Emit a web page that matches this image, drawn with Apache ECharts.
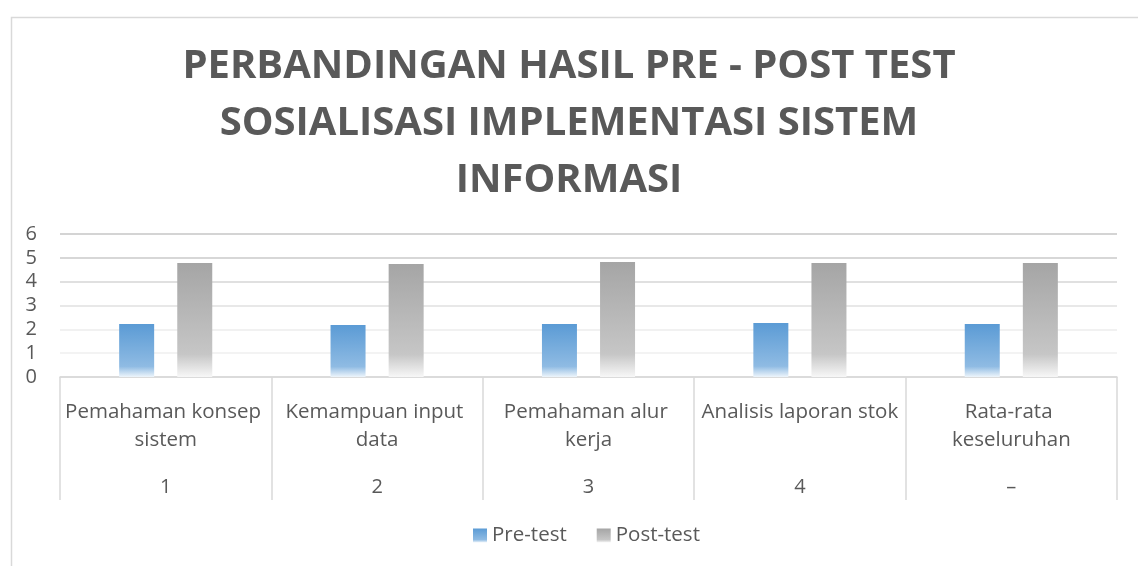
<!DOCTYPE html>
<html>
<head>
<meta charset="utf-8">
<script src="https://cdn.jsdelivr.net/npm/echarts@6/dist/echarts.min.js"></script>
<style>
  html, body { margin: 0; padding: 0; background: #fff; }
  #chart { width: 1138px; height: 566px; }
</style>
</head>
<body>
<div id="chart"></div>
<script>
var categories = ['Pemahaman konsep sistem', 'Kemampuan input data', 'Pemahaman alur kerja', 'Analisis laporan stok', 'Rata-rata keseluruhan'];
var codes = ['1', '2', '3', '4', '–'];
var preTest = [2.22, 2.18, 2.22, 2.27, 2.22];
var postTest = [4.78, 4.74, 4.83, 4.78, 4.78];
var yTicks = [0, 1, 2, 3, 4, 5, 6];

var textColor = '#595959';
var fontFamily = '"Open Sans", sans-serif';

function fade(top, mid, bottom) {
    return {
        type: 'linear', x: 0, y: 0, x2: 0, y2: 1,
        colorStops: [
            { offset: 0, color: top },
            { offset: 0.8, color: mid },
            { offset: 1, color: bottom }
        ]
    };
}

var option = {
    animation: false,
    textStyle: { fontFamily: fontFamily },
    title: {
        text: 'PERBANDINGAN HASIL PRE - POST TEST\nSOSIALISASI IMPLEMENTASI SISTEM\nINFORMASI',
        left: 'center',
        top: 33,
        textStyle: {
            color: textColor,
            fontSize: 40,
            fontWeight: 'bold',
            lineHeight: 57,
            fontFamily: fontFamily
        }
    },
    graphic: [{
        type: 'rect',
        left: 9, top: 15,
        shape: { width: 1140, height: 560 },
        style: { fill: 'none', stroke: '#d9d9d9', lineWidth: 1.5 },
        silent: true
    }],
    legend: {
        bottom: 15,
        left: 468,
        itemWidth: 14,
        itemHeight: 14,
        itemGap: 30,
        icon: 'rect',
        textStyle: { color: textColor, fontSize: 20.5, fontFamily: fontFamily }
    },
    grid: { left: 60, right: 21, top: 234, bottom: 189, containLabel: false },
    xAxis: [{
        type: 'category',
        data: categories,
        axisLine: { lineStyle: { color: '#d9d9d9', width: 1.5 } },
        axisTick: { show: true, length: 123, lineStyle: { color: '#d9d9d9', width: 1.5 } },
        axisLabel: {
            interval: 0,
            margin: 21,
            width: 205,
            overflow: 'break',
            lineHeight: 28,
            verticalAlign: 'top',
            color: textColor,
            fontSize: 20.5,
            fontFamily: fontFamily
        }
    }, {
        type: 'category',
        data: codes,
        position: 'bottom',
        axisLine: { show: false },
        axisTick: { show: false },
        axisLabel: {
            interval: 0,
            margin: 100,
            color: textColor,
            fontSize: 20,
            fontFamily: fontFamily
        }
    }],
    yAxis: {
        type: 'value',
        min: yTicks[0],
        max: yTicks[yTicks.length - 1],
        interval: 1,
        axisLine: { show: false },
        axisTick: { show: false },
        axisLabel: { color: textColor, fontSize: 20, margin: 23, fontFamily: fontFamily },
        splitLine: {
            lineStyle: {
                width: 1.5,
                color: ['#d9d9d9', '#efefef', '#ececec', '#e0e0e0', '#d6d6d6', '#cacaca', '#c6c6c6']
            }
        }
    },
    series: [{
        name: 'Pre-test',
        type: 'bar',
        data: preTest,
        barWidth: 35,
        barGap: '66%',
        itemStyle: { color: fade('#5b9bd5', '#8fbbe3', '#eef5fb') }
    }, {
        name: 'Post-test',
        type: 'bar',
        data: postTest,
        barWidth: 35,
        barGap: '66%',
        itemStyle: { color: fade('#a5a5a5', '#c6c6c6', '#f7f7f7') }
    }]
};

var chart = echarts.init(document.getElementById('chart'));
chart.setOption(option);
</script>
</body>
</html>
